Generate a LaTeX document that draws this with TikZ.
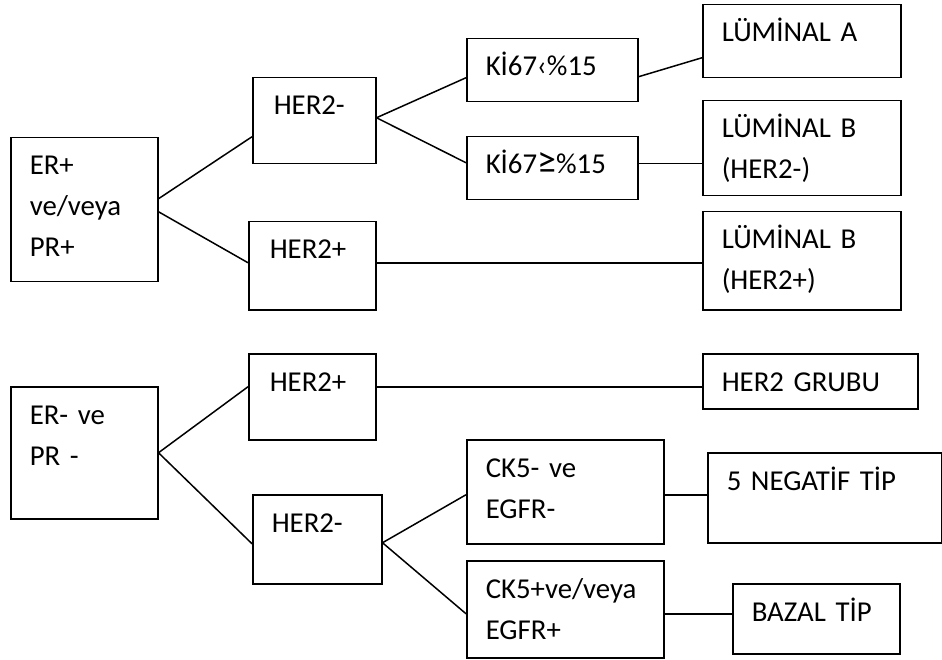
\documentclass[tikz,border=0pt]{standalone}
\usepackage{fontspec}
\setmainfont{Carlito}
\usetikzlibrary{positioning}

\begin{document}
\begin{tikzpicture}[x=1pt,y=-1pt,line width=1.5pt,
  kutu/.style={draw,anchor=north west,inner sep=0pt},
  yazi/.style={anchor=base west,inner sep=0pt,text width=300pt,align=left,
    font=\fontsize{28.8}{41}\selectfont,xshift=19pt,yshift=-38pt}]
  \useasboundingbox (0,0) rectangle (942,660);
  % upper tree: ER+ ve/veya PR+
  \node[kutu,minimum width=147pt,minimum height=144pt] (erp) at (10,137) {};
  \node[kutu,minimum width=123pt,minimum height=86pt] (her2a) at (252,77) {};
  \node[kutu,minimum width=127pt,minimum height=88pt] (her2b) at (248,221) {};
  \node[kutu,minimum width=171pt,minimum height=63pt] (kiaz) at (466,38) {};
  \node[kutu,minimum width=171pt,minimum height=63pt] (kicok) at (466,136) {};
  \node[kutu,minimum width=198pt,minimum height=73pt] (luma) at (702,4) {};
  \node[kutu,minimum width=198pt,minimum height=95pt] (lumb1) at (702,100) {};
  \node[kutu,minimum width=198pt,minimum height=98pt] (lumb2) at (702,211) {};
  \node[yazi] (erp-t) at (erp.north west) {ER+\\ve/veya\\PR+};
  \node[yazi,xshift=2pt] (her2a-t) at (her2a.north west) {HER2-};
  \node[yazi,xshift=2pt] (her2b-t) at (her2b.north west) {HER2+};
  \node[yazi] (kiaz-t) at (kiaz.north west) {Kİ67‹\%15};
  \node[yazi] (kicok-t) at (kicok.north west) {Kİ67{\fontsize{38}{41}\selectfont ≥}\%15};
  \node[yazi] (luma-t) at (luma.north west) {LÜMİNAL A};
  \node[yazi] (lumb1-t) at (lumb1.north west) {LÜMİNAL B\\(HER2-)};
  \node[yazi] (lumb2-t) at (lumb2.north west) {LÜMİNAL B\\(HER2+)};
  \draw ([yshift=11pt]erp.east) -- ([yshift=-16pt]her2a.west);
  \draw ([yshift=-2pt]erp.east) -- ([yshift=3pt]her2b.west);
  \draw ([yshift=3pt]her2a.east) -- ([yshift=-7.5pt]kiaz.west);
  \draw ([yshift=3pt]her2a.east) -- ([yshift=5.5pt]kicok.west);
  \draw ([yshift=-6.5pt]kiaz.east) -- ([yshift=-16.5pt]luma.west);
  \draw ([yshift=4.5pt]kicok.east) -- ([yshift=-15.5pt]lumb1.west);
  \draw ([yshift=2.5pt]her2b.east) -- ([yshift=-2.5pt]lumb2.west);
  % lower tree: ER- ve PR -
  \node[kutu,minimum width=147pt,minimum height=132pt] (ern) at (10,386) {};
  \node[kutu,minimum width=127pt,minimum height=86pt] (her2c) at (248,353) {};
  \node[kutu,minimum width=129pt,minimum height=89pt] (her2d) at (252,494) {};
  \node[kutu,minimum width=215pt,minimum height=55pt] (grubu) at (702,353) {};
  \node[kutu,minimum width=197pt,minimum height=104pt] (ckneg) at (466,439) {};
  \node[kutu,minimum width=234pt,minimum height=90pt] (negtip) at (707,452) {};
  \node[kutu,minimum width=197pt,minimum height=97pt] (ckpos) at (466,560) {};
  \node[kutu,minimum width=167pt,minimum height=70pt] (bazal) at (732,583) {};
  \node[yazi] (ern-t) at (ern.north west) {ER- ve\\PR -};
  \node[yazi,xshift=2pt] (her2c-t) at (her2c.north west) {HER2+};
  \node[yazi] (her2d-t) at (her2d.north west) {HER2-};
  \node[yazi] (grubu-t) at (grubu.north west) {HER2 GRUBU};
  \node[yazi] (ckneg-t) at (ckneg.north west) {CK5- ve\\EGFR-};
  \node[yazi] (negtip-t) at (negtip.north west) {5 NEGATİF TİP};
  \node[yazi] (ckpos-t) at (ckpos.north west) {CK5+ve/veya\\EGFR+};
  \node[yazi] (bazal-t) at (bazal.north west) {BAZAL TİP};
  \draw (ern.east) -- ([yshift=10pt]her2c.west);
  \draw (ern.east) -- ([yshift=-4.5pt]her2d.west);
  \draw ([yshift=10pt]her2c.east) -- ([yshift=-5.5pt]grubu.west);
  \draw ([yshift=-3.5pt]her2d.east) -- ([yshift=-3pt]ckneg.west);
  \draw ([yshift=-3.5pt]her2d.east) -- ([yshift=-4.5pt]ckpos.west);
  \draw ([yshift=-3pt]ckneg.east) -- ([yshift=3pt]negtip.west);
  \draw ([yshift=-4.5pt]ckpos.east) -- ([yshift=5pt]bazal.west);
\end{tikzpicture}
\end{document}
